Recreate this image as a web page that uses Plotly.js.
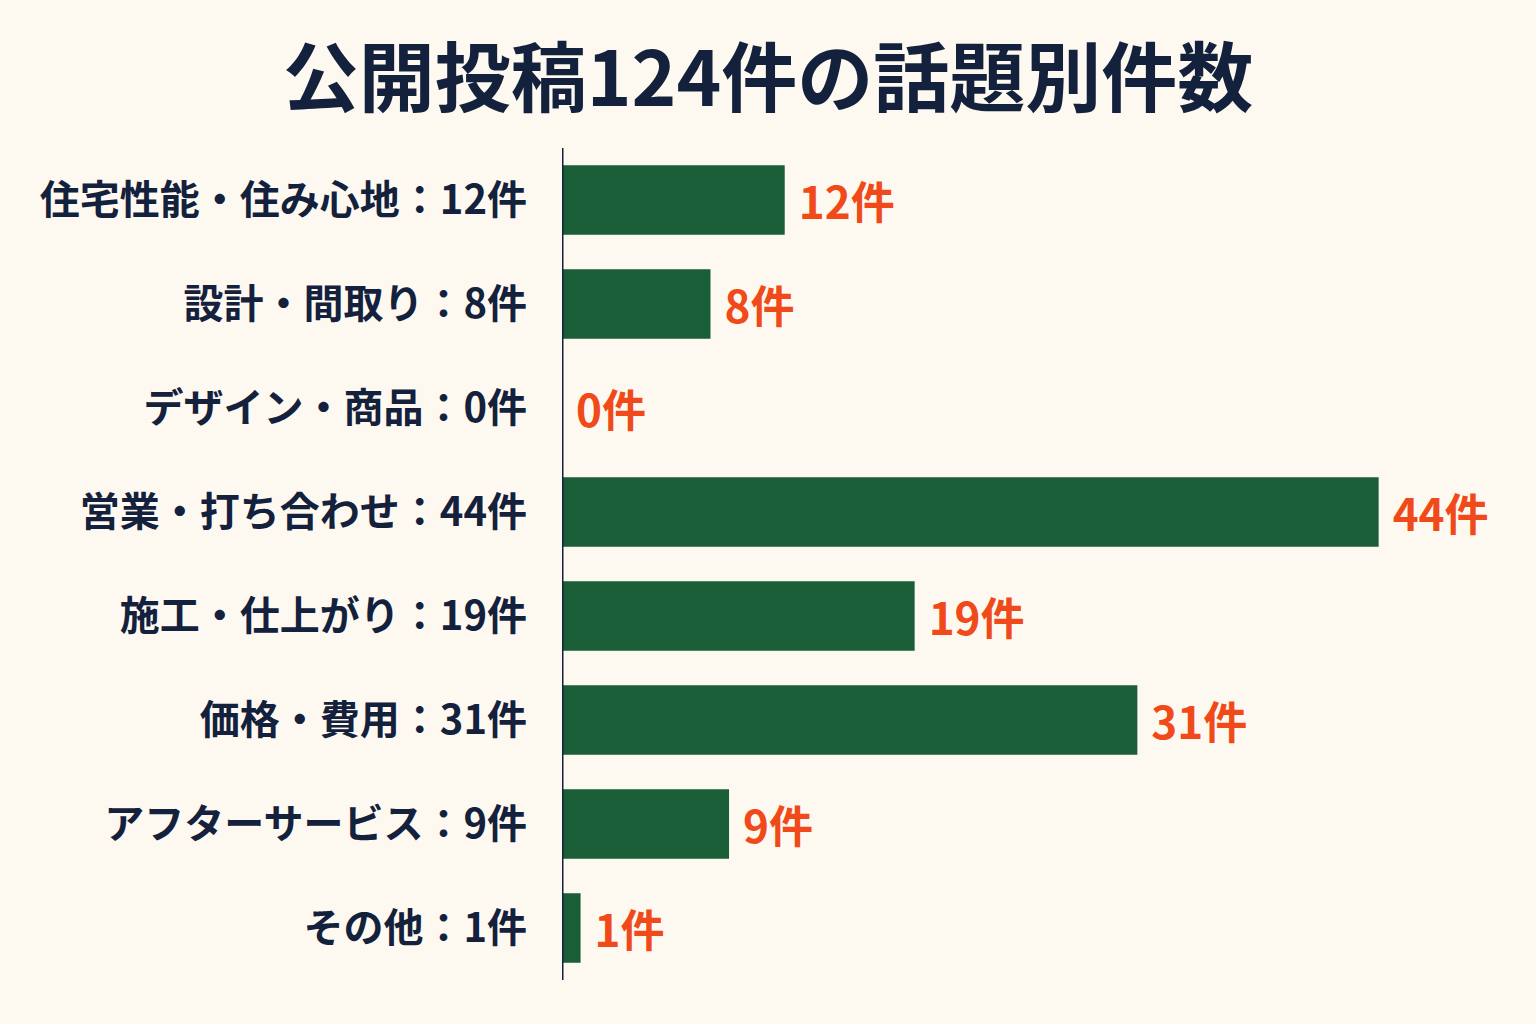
<!DOCTYPE html>
<html><head><meta charset="utf-8">
<script src="https://cdn.plot.ly/plotly-3.0.1.min.js"></script>
<style>html,body{margin:0;padding:0;background:#fdf9f0;}</style>
</head><body>
<div id="chart" style="width:1536px;height:1024px;"></div>
<script>
const categories = ["住宅性能・住み心地","設計・間取り","デザイン・商品","営業・打ち合わせ","施工・仕上がり","価格・費用","アフターサービス","その他"];
const counts = [12, 8, 0, 44, 19, 31, 9, 1];
const unit = "件";
const chartTitle = "公開投稿124件の話題別件数";

const tickLabels = categories.map((c, i) => c + "：" + counts[i] + unit);
const valueLabels = counts.map(v => "\u2005" + v + unit);
const FONT = "'Noto Sans CJK JP', 'Noto Sans', sans-serif";

const trace = {
  type: "bar",
  orientation: "h",
  x: counts,
  y: tickLabels,
  marker: {color: "#1a5e37"},
  text: valueLabels,
  textposition: "outside",
  cliponaxis: false,
  textfont: {family: FONT, size: 44, color: "#f04a1a", weight: 700},
  hoverinfo: "none"
};

const layout = {
  width: 1536, height: 1024,
  paper_bgcolor: "#fdf9f0", plot_bgcolor: "#fdf9f0",
  margin: {l: 562, r: 46, t: 148, b: 44},
  title: {text: "<b>" + chartTitle + "</b>", x: 0.5, xanchor: "center", y: 0.922, yanchor: "middle",
          font: {family: FONT, size: 76, color: "#14213d"}},
  bargap: 0.33,
  showlegend: false,
  xaxis: {range: [0, 50], visible: false, fixedrange: true},
  yaxis: {autorange: "reversed", showgrid: false, zeroline: false,
          showline: false, ticks: "", ticklabelstandoff: 34,
          tickfont: {family: FONT, size: 40, color: "#14213d", weight: 700}},
  shapes: [{type: "line", xref: "x", yref: "paper", x0: 0, x1: 0, y0: 0, y1: 1,
            line: {color: "#14213d", width: 3}}],
  uniformtext: {mode: false}
};

Plotly.newPlot("chart", [trace], layout, {displayModeBar: false, staticPlot: true});
</script>
</body></html>
